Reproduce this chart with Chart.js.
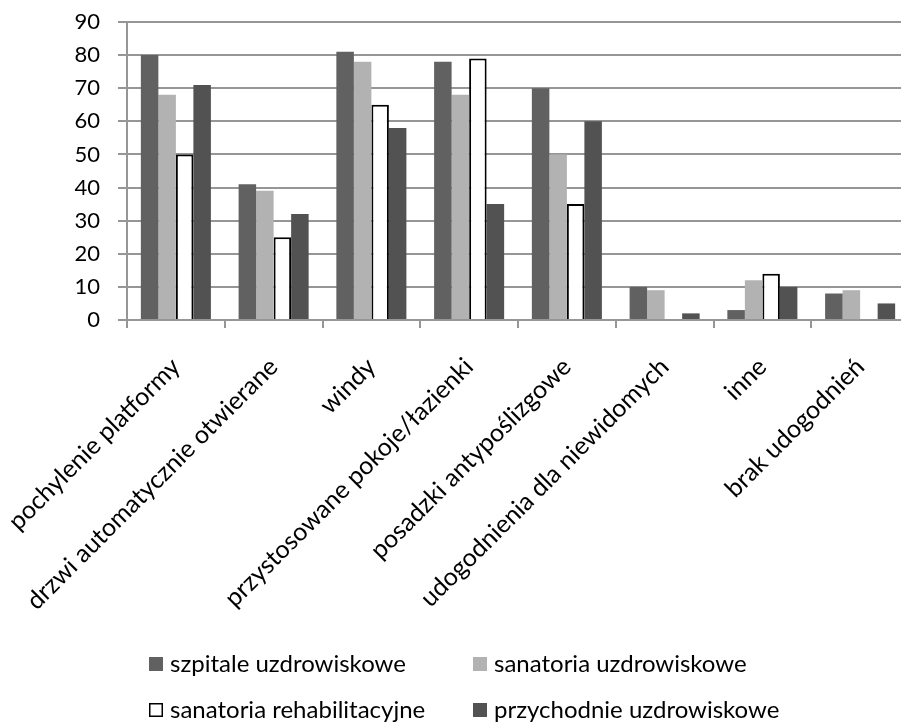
<!DOCTYPE html>
<html>
<head>
<meta charset="utf-8">
<script src="https://cdn.jsdelivr.net/npm/chart.js@4/dist/chart.umd.min.js"></script>
<style>
  html, body { margin: 0; padding: 0; background: #fff; overflow: hidden; width: 901px; height: 723px; }
  #wrap { position: relative; width: 909px; height: 723px; }
</style>
</head>
<body>
<div id="wrap"><canvas id="c" width="909" height="723"></canvas></div>
<script>
// Facilities for people with disabilities, by type of spa institution
const categories = [
  'pochylenie platformy',
  'drzwi automatycznie otwierane',
  'windy',
  'przystosowane pokoje/łazienki',
  'posadzki antypoślizgowe',
  'udogodnienia dla niewidomych',
  'inne',
  'brak udogodnień'
];
const seriesNames = [
  'szpitale uzdrowiskowe',
  'sanatoria uzdrowiskowe',
  'sanatoria rehabilitacyjne',
  'przychodnie uzdrowiskowe'
];
const szpitaleUzdrowiskowe    = [80, 41, 81, 78, 70, 10, 3, 8];
const sanatoriaUzdrowiskowe   = [68, 39, 78, 68, 50, 9, 12, 9];
const sanatoriaRehabilitacyjne = [50, 25, 65, 79, 35, null, 14, null];
const przychodnieUzdrowiskowe = [71, 32, 58, 35, 60, 2, 10, 5];
const yTicks = [0, 10, 20, 30, 40, 50, 60, 70, 80, 90];

const FONT = 'Lato, "Open Sans", sans-serif';
const GRID = '#969696';

// Two-column legend below the axis labels
const gridLegend = {
  id: 'gridLegend',
  afterDraw(chart, args, opts) {
    const ctx = chart.ctx;
    ctx.save();
    ctx.font = opts.fontSize + 'px ' + FONT;
    ctx.textBaseline = 'alphabetic';
    ctx.textAlign = 'left';
    chart.data.datasets.forEach((ds, i) => {
      const x = opts.columns[i % 2];
      const base = opts.rows[Math.floor(i / 2)];
      const s = opts.box;
      const top = base - opts.boxRise;
      ctx.fillStyle = ds.backgroundColor;
      ctx.fillRect(x, top, s, s);
      if (ds.borderWidth) {
        ctx.strokeStyle = ds.borderColor;
        ctx.lineWidth = 1.5;
        ctx.strokeRect(x + 0.75, top + 0.75, s - 1.5, s - 1.5);
      }
      ctx.fillStyle = '#000';
      ctx.fillText(ds.label, x + opts.textGap, base);
    });
    ctx.restore();
  }
};

new Chart(document.getElementById('c'), {
  type: 'bar',
  data: {
    labels: categories,
    datasets: [
      { label: seriesNames[0], data: szpitaleUzdrowiskowe, backgroundColor: '#616161', borderWidth: 0 },
      { label: seriesNames[1], data: sanatoriaUzdrowiskowe, backgroundColor: '#b2b2b2', borderWidth: 0 },
      { label: seriesNames[2], data: sanatoriaRehabilitacyjne, backgroundColor: '#ffffff', borderColor: '#000000', borderWidth: 2 },
      { label: seriesNames[3], data: przychodnieUzdrowiskowe, backgroundColor: '#525252', borderWidth: 0 }
    ]
  },
  options: {
    responsive: false,
    animation: false,
    devicePixelRatio: 1,
    layout: { padding: { left: 0, right: 0, top: 22, bottom: 0 } },
    datasets: { bar: { categoryPercentage: 0.7165, barPercentage: 1.0 } },
    plugins: {
      legend: { display: false },
      tooltip: { enabled: false },
      gridLegend: {
        columns: [149, 473],
        rows: [672, 718],
        box: 14,
        boxRise: 15,
        textGap: 21,
        fontSize: 24
      }
    },
    scales: {
      x: {
        offset: true,
        grid: { display: true, drawOnChartArea: false, drawTicks: true, tickLength: 8, offset: true, color: GRID, lineWidth: 2 },
        border: { display: true, color: GRID, width: 2 },
        ticks: {
          autoSkip: false,
          maxRotation: 45,
          minRotation: 45,
          padding: 24,
          color: '#000',
          font: { family: FONT, size: 25 }
        },
        afterFit(scale) {
          // rotated labels may hang past the plot edges; keep the plot area fixed
          scale.height = 723 - 320;
          scale.paddingLeft = 0;
          scale.paddingRight = 0;
        }
      },
      y: {
        min: 0,
        max: 90,
        afterBuildTicks(scale) { scale.ticks = yTicks.map(v => ({ value: v })); },
        grid: { display: true, drawTicks: true, tickLength: 9, color: GRID, lineWidth: 2 },
        border: { display: true, color: GRID, width: 2 },
        ticks: {
          padding: 18,
          color: '#000',
          font: { family: FONT, size: 22 }
        },
        afterFit(scale) {
          scale.width = 127;
          scale.paddingTop = 0;
          scale.paddingBottom = 0;
        }
      }
    }
  },
  plugins: [gridLegend]
});
</script>
</body>
</html>
